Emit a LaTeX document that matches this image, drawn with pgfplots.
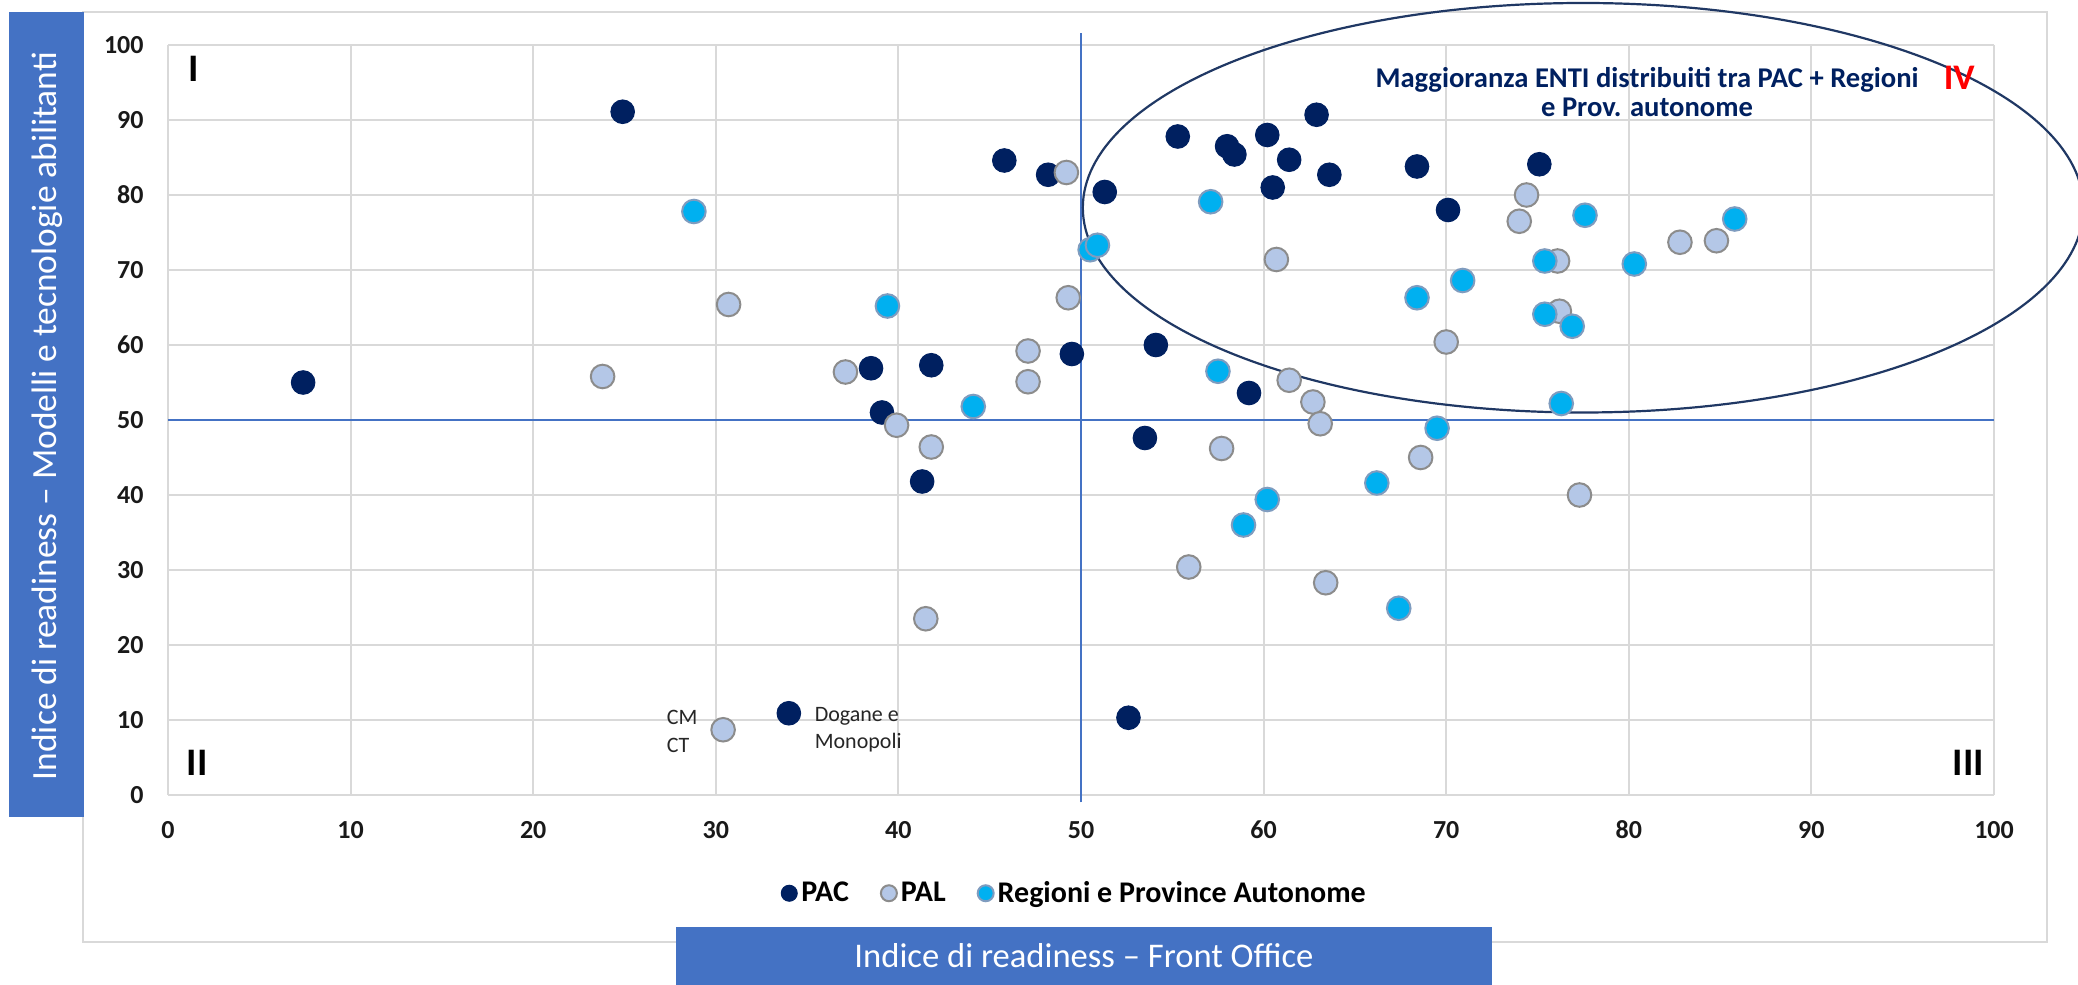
\documentclass[border=0pt]{standalone}
\usepackage{pgfplots}
\pgfplotsset{compat=1.18}
\usepackage{fontspec}
\setmainfont{Carlito}

\definecolor{pac}{HTML}{002060}
\definecolor{pal}{HTML}{B4C7E7}
\definecolor{palb}{HTML}{8C8C8C}
\definecolor{reg}{HTML}{00B0F0}
\definecolor{regb}{HTML}{7F9CBF}
\definecolor{boxblue}{HTML}{4472C4}
\definecolor{gridc}{HTML}{D9D9D9}
\definecolor{ellc}{HTML}{203864}

\begin{document}
\begin{tikzpicture}
% outer frame and the two blue label boxes
\draw[gridc, line width=0.6pt] (41.5pt,21.5pt) rectangle (1023.5pt,486.5pt);
\fill[boxblue] (4.5pt,84pt) rectangle (42pt,486.5pt);
\fill[boxblue] (338pt,0pt) rectangle (746pt,29pt);
\node[text=white, rotate=90, font=\fontsize{17.7}{20}\selectfont] at (23.5pt,284.5pt)
  {Indice di readiness – Modelli e tecnologie abilitanti};
\node[text=white, font=\fontsize{17.3}{20}\selectfont] at (542pt,14.5pt)
  {Indice di readiness – Front Office};

\begin{axis}[
    at={(84pt,95pt)}, anchor=south west,
    scale only axis, width=913pt, height=375pt,
    xmin=0, xmax=100, ymin=0, ymax=100,
    xtick={0,10,20,30,40,50,60,70,80,90,100},
    ytick={0,10,20,30,40,50,60,70,80,90,100},
    xticklabels={0,10,20,30,40,50,60,70,80,90,100},
    yticklabels={0,10,20,30,40,50,60,70,80,90,100},
    grid=major,
    grid style={gridc, line width=1pt},
    axis line style={draw=none},
    major tick length=0pt,
    tick label style={font=\fontsize{13}{15}\selectfont\bfseries, text=black!90, inner sep=0pt},
    xticklabel style={anchor=center, yshift=-17.5pt},
    yticklabel style={anchor=east, xshift=-12pt},
    clip=false,
    legend style={at={(0.497,-0.131)}, anchor=center, draw=none, fill=none,
        legend columns=-1, font=\fontsize{15}{18}\selectfont\bfseries,
        /tikz/every even column/.append style={column sep=14pt}},
    legend image code/.code={\draw[#1, mark size=4pt] plot coordinates {(0pt,0pt)};},
]

% quadrant reference lines
\addplot[forget plot, color=boxblue, line width=0.6pt] coordinates {(0,50) (100,50)};
\addplot[forget plot, color=boxblue, line width=0.6pt] coordinates {(50,-1) (50,101.6)};

\addplot[only marks, mark=*, mark size=5.9pt,
    mark options={fill=pac, draw=pac, line width=0.5pt}]
    coordinates {
    (7.4,55.0)(24.9,91.1)(34.0,10.9)(38.5,56.9)(39.1,51.0)(41.3,41.8)
    (41.8,57.3)(45.8,84.6)(48.2,82.7)(49.5,58.8)(51.3,80.4)(52.6,10.3)
    (53.5,47.6)(54.1,60.0)(55.3,87.8)(58.0,86.5)(58.4,85.4)(59.2,53.6)
    (60.2,88.0)(60.5,81.0)(61.4,84.7)(62.9,90.7)(63.6,82.7)(68.4,83.8)
    (70.1,78.0)(75.1,84.1)
    };
\addlegendentry{PAC}

\addplot[only marks, mark=*, mark size=5.9pt,
    mark options={fill=pal, draw=palb, line width=1pt}]
    coordinates {
    (23.8,55.8)(30.4,8.7)(30.7,65.4)(37.1,56.4)(39.9,49.3)(41.5,23.5)
    (41.8,46.4)(47.1,59.2)(47.1,55.1)(49.2,83.0)(49.3,66.3)(55.9,30.4)
    (57.7,46.2)(60.7,71.4)(61.4,55.3)(62.7,52.4)(63.1,49.5)(63.4,28.3)
    (68.6,45.0)(70.0,60.4)(74.0,76.5)(74.4,80.0)(76.1,71.2)(76.2,64.5)
    (77.3,40.0)(82.8,73.7)(84.8,73.9)
    };
\addlegendentry{PAL}

\addplot[only marks, mark=*, mark size=5.9pt,
    mark options={fill=reg, draw=regb, line width=1pt}]
    coordinates {
    (28.8,77.8)(39.4,65.2)(44.1,51.8)(50.5,72.7)(50.9,73.3)(57.1,79.1)
    (57.5,56.5)(58.9,36.0)(60.2,39.4)(66.2,41.6)(67.4,24.9)(68.4,66.3)
    (69.5,48.9)(70.9,68.6)(75.4,71.2)(75.4,64.1)(76.3,52.2)(76.9,62.5)
    (77.6,77.3)(80.3,70.8)(85.8,76.8)
    };
\addlegendentry{Regioni e Province Autonome}

% highlighted cluster
\draw[ellc, line width=1.1pt] (axis cs:77.5,78.3) ellipse [x radius=27.4, y radius=27.3];

\node[font=\fontsize{14.3}{14.5}\selectfont\bfseries, text=pac, align=center]
  at (axis cs:81.0,93.7) {Maggioranza ENTI distribuiti tra PAC + Regioni\\e Prov. autonome};

% quadrant numbers
\node[font=\fontsize{19.5}{20}\selectfont\bfseries] at (axis cs:1.4,96.8) {I};
\node[font=\fontsize{19.5}{20}\selectfont\bfseries] at (axis cs:1.6,4.3) {II};
\node[font=\fontsize{19.5}{20}\selectfont\bfseries] at (axis cs:98.6,4.3) {III};
\node[font=\fontsize{18}{20}\selectfont\bfseries, text=red] at (axis cs:98.1,95.6) {IV};

% point labels
\node[anchor=west, align=left, inner sep=0pt, font=\fontsize{11}{14}\selectfont, text=black!85]
  at (axis cs:27.3,8.5) {CM\\CT};
\node[anchor=west, align=left, inner sep=0pt, font=\fontsize{11}{13.5}\selectfont, text=black!85]
  at (axis cs:35.4,8.7) {Dogane e\\Monopoli};
\end{axis}

\pgfresetboundingbox
\path[use as bounding box] (0pt,0pt) rectangle (1039pt,492.5pt);
\end{tikzpicture}
\end{document}
